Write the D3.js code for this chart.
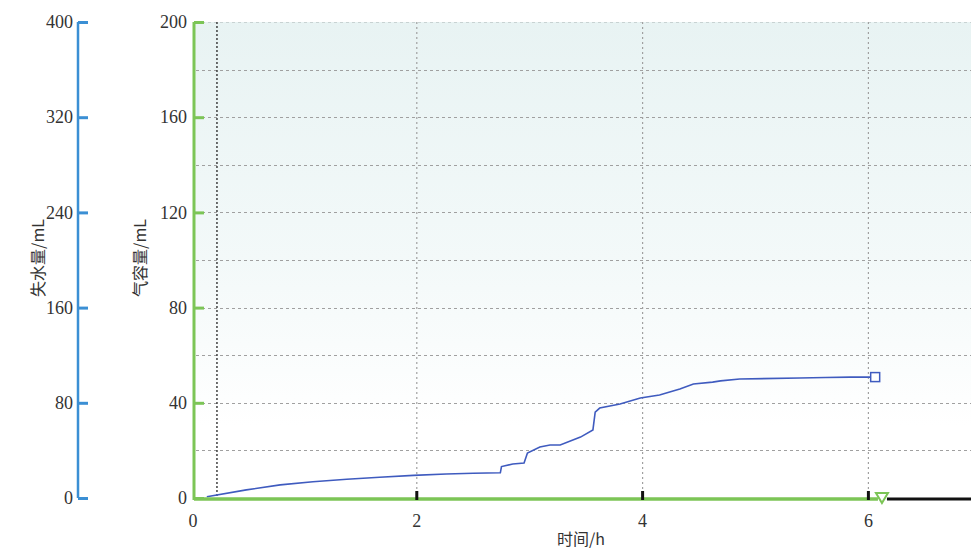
<!DOCTYPE html>
<html>
<head>
<meta charset="utf-8">
<script src="https://cdn.jsdelivr.net/npm/d3@7"></script>
<style>
  html, body { margin: 0; padding: 0; background: #fff; }
  svg { display: block; }
</style>
</head>
<body>
<svg id="chart" width="971" height="551"></svg>
<script>
// ---- data ----
const timeH = [0.14, 0.49, 0.79, 1.08, 1.38, 1.67, 1.97, 2.26, 2.50, 2.74, 2.75, 2.85, 2.95, 2.98, 3.09, 3.18, 3.27, 3.45, 3.56, 3.58, 3.62, 3.80, 3.98, 4.15, 4.33, 4.45, 4.62, 4.69, 4.86, 5.39, 5.62, 5.84, 6.06];
const gasVolume = [0.5, 3.4, 5.5, 6.8, 7.9, 8.7, 9.5, 10.1, 10.4, 10.6, 13.2, 14.3, 14.7, 18.9, 21.4, 22.3, 22.3, 25.6, 28.6, 36.1, 37.8, 39.5, 42.0, 43.3, 45.8, 47.9, 48.7, 49.2, 50.0, 50.4, 50.6, 50.8, 50.8];
const xTicks = [0, 2, 4, 6];
const leftTicks = [0, 80, 160, 240, 320, 400];
const rightTicks = [0, 40, 80, 120, 160, 200];
const gridY = [20, 40, 60, 80, 100, 120, 140, 160, 180, 200];
const markerLineX = 0.23;
const endMarkerX = 6.12;
const leftTitle = "失水量/mL";
const rightTitle = "气容量/mL";
const xTitle = "时间/h";

// ---- layout ----
const W = 971, H = 551;
const svg = d3.select("#chart");
const x = d3.scaleLinear().domain([0, 6]).range([191, 868.4]);
const yL = d3.scaleLinear().domain([0, 400]).range([498, 22]);
const yR = d3.scaleLinear().domain([0, 200]).range([498, 22]);
const plotLeft = 194, plotRight = W, plotTop = yR(200), plotBottom = yR(0);

const numFont = "'Liberation Serif','DejaVu Serif',serif";
const cjkFont = "'Noto Sans CJK SC','Noto Sans',sans-serif";
const green = "#7cc556", blue = "#3b8fd4";

const defs = svg.append("defs");
const grad = defs.append("linearGradient").attr("id", "bg").attr("x1", 0).attr("y1", 0).attr("x2", 0).attr("y2", 1);
grad.append("stop").attr("offset", "0%").attr("stop-color", "#e8f3f3");
grad.append("stop").attr("offset", "50%").attr("stop-color", "#f3f9f9");
grad.append("stop").attr("offset", "85%").attr("stop-color", "#ffffff");

svg.append("rect").attr("x", plotLeft).attr("y", plotTop)
  .attr("width", plotRight - plotLeft).attr("height", plotBottom - plotTop)
  .attr("fill", "url(#bg)");

// horizontal grid
svg.append("g").selectAll("line").data(gridY).join("line")
  .attr("x1", plotLeft + 2).attr("x2", plotRight)
  .attr("y1", d => Math.round(yR(d)) + 0.5).attr("y2", d => Math.round(yR(d)) + 0.5)
  .attr("stroke", d => d === 200 ? "#c8d2d2" : "#a0a0a0")
  .attr("stroke-width", 1.2)
  .attr("stroke-dasharray", "3,3");

// vertical grid
svg.append("g").selectAll("line").data(xTicks.filter(d => d > 0)).join("line")
  .attr("x1", d => x(d)).attr("x2", d => x(d))
  .attr("y1", plotTop).attr("y2", plotBottom)
  .attr("stroke", "#a0a0a0").attr("stroke-width", 1.2)
  .attr("stroke-dasharray", "2,3");

// dark dotted marker line
svg.append("line")
  .attr("x1", x(markerLineX)).attr("x2", x(markerLineX))
  .attr("y1", plotTop).attr("y2", plotBottom)
  .attr("stroke", "#333").attr("stroke-width", 1.4)
  .attr("stroke-dasharray", "2,2");

// data line
const pts = timeH.map((t, i) => [t, gasVolume[i]]);
svg.append("path").datum(pts)
  .attr("fill", "none").attr("stroke", "#3f5bbf").attr("stroke-width", 1.6)
  .attr("d", d3.line().x(d => x(d[0])).y(d => yR(d[1])));

const last = pts[pts.length - 1];
svg.append("rect")
  .attr("x", x(last[0]) - 4.5).attr("y", yR(last[1]) - 4.5)
  .attr("width", 9).attr("height", 9)
  .attr("fill", "#fff").attr("stroke", "#3f5bbf").attr("stroke-width", 1.5);

// x axis (green then black)
svg.append("line").attr("x1", plotLeft).attr("x2", x(endMarkerX) - 4)
  .attr("y1", plotBottom + 1).attr("y2", plotBottom + 1)
  .attr("stroke", green).attr("stroke-width", 3.5);
svg.append("line").attr("x1", x(endMarkerX) + 5).attr("x2", W)
  .attr("y1", plotBottom + 1).attr("y2", plotBottom + 1)
  .attr("stroke", "#111").attr("stroke-width", 3);
// triangle marker
const tx = x(endMarkerX), ty = plotBottom;
svg.append("path")
  .attr("d", `M${tx - 6},${ty - 5} L${tx + 6},${ty - 5} L${tx},${ty + 5} Z`)
  .attr("fill", "#fff").attr("stroke", green).attr("stroke-width", 2);

// x ticks
svg.append("g").selectAll("line").data(xTicks.filter(d => d > 0)).join("line")
  .attr("x1", d => x(d)).attr("x2", d => x(d))
  .attr("y1", plotBottom - 7).attr("y2", plotBottom + 2)
  .attr("stroke", "#111").attr("stroke-width", 3);
svg.append("g").selectAll("text").data(xTicks).join("text")
  .attr("x", d => d === 0 ? 193 : x(d)).attr("y", 527)
  .attr("text-anchor", "middle")
  .attr("font-family", numFont).attr("font-size", 18).attr("fill", "#333")
  .text(d => d);

// left (blue) axis
const gL = svg.append("g").attr("transform", "translate(78,0)")
  .call(d3.axisLeft(yL).tickValues(leftTicks).tickSize(-10).tickPadding(5));
gL.select(".domain").attr("stroke", blue).attr("stroke-width", 2.5)
  .attr("d", `M0,${yL(400)}V${yL(0)}`);
gL.selectAll(".tick line").attr("stroke", blue).attr("stroke-width", 3);
gL.selectAll(".tick text").attr("font-family", numFont).attr("font-size", 18).attr("fill", "#333");

// right (green) axis
const gR = svg.append("g").attr("transform", "translate(194,0)")
  .call(d3.axisLeft(yR).tickValues(rightTicks).tickSize(-10).tickPadding(7));
gR.select(".domain").attr("stroke", green).attr("stroke-width", 3)
  .attr("d", `M0,${yR(200)}V${yR(0) + 2}`);
gR.selectAll(".tick line").attr("stroke", green).attr("stroke-width", 3);
gR.selectAll(".tick text").attr("font-family", numFont).attr("font-size", 18).attr("fill", "#333");

// titles
svg.append("text").attr("transform", "translate(44,258) rotate(-90)")
  .attr("text-anchor", "middle").attr("font-family", cjkFont).attr("font-size", 16).attr("fill", "#333")
  .text(leftTitle);
svg.append("text").attr("transform", "translate(146,258) rotate(-90)")
  .attr("text-anchor", "middle").attr("font-family", cjkFont).attr("font-size", 16).attr("fill", "#333")
  .text(rightTitle);
svg.append("text").attr("x", 581).attr("y", 545)
  .attr("text-anchor", "middle").attr("font-family", cjkFont).attr("font-size", 16).attr("fill", "#333")
  .text(xTitle);
</script>
</body>
</html>
